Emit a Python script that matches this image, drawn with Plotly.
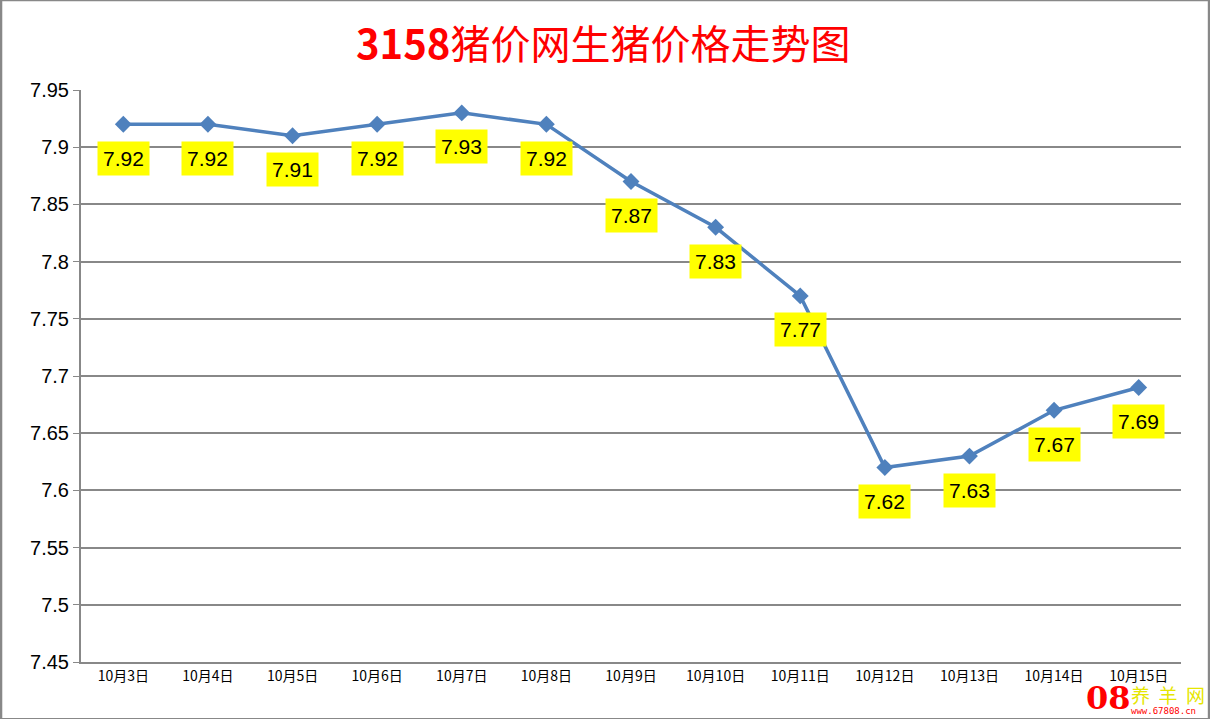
import plotly.graph_objects as go

categories = ["10月3日", "10月4日", "10月5日", "10月6日", "10月7日", "10月8日", "10月9日",
              "10月10日", "10月11日", "10月12日", "10月13日", "10月14日", "10月15日"]
prices = [7.92, 7.92, 7.91, 7.92, 7.93, 7.92, 7.87, 7.83, 7.77, 7.62, 7.63, 7.67, 7.69]
y_ticks = [7.45, 7.5, 7.55, 7.6, 7.65, 7.7, 7.75, 7.8, 7.85, 7.9, 7.95]
y_tick_text = ["7.45", "7.5", "7.55", "7.6", "7.65", "7.7", "7.75", "7.8", "7.85", "7.9", "7.95"]
title_num = "3158"
title_rest = "猪价网生猪价格走势图"

fig = go.Figure()
fig.add_trace(go.Scatter(
    x=categories, y=prices, mode="lines+markers",
    line=dict(color="#4F81BD", width=3.5),
    marker=dict(symbol="diamond", size=13, color="#4F81BD"),
    hoverinfo="skip", showlegend=False,
))

for c, p in zip(categories, prices):
    fig.add_annotation(x=c, y=p, text=f"{p:.2f}", showarrow=False, yshift=-34,
                       bgcolor="#FFFF00", borderpad=5,
                       font=dict(family="Liberation Sans, Arial", size=21, color="black"))

fig.add_annotation(xref="paper", yref="paper", x=0.4745, y=1, yshift=48, xanchor="center", yanchor="middle",
                   text="<b>" + title_num + "</b>" + title_rest, showarrow=False,
                   font=dict(family="Noto Sans CJK SC", size=40, color="#FF0000"))

# watermark
fig.add_annotation(xref="paper", yref="paper", x=1.0, y=0, xanchor="right", yanchor="top",
                   xshift=-48, yshift=-15,
                   text="<b>08</b>", showarrow=False,
                   font=dict(family="DejaVu Serif", size=32, color="#FF0000"))
fig.add_annotation(xref="paper", yref="paper", x=1.0, y=0, xanchor="left", yanchor="top",
                   xshift=-52, yshift=-17,
                   text="养&nbsp;&nbsp;羊&nbsp;&nbsp;网", showarrow=False,
                   font=dict(family="Noto Sans CJK SC", size=19, color="#E6E600"))
fig.add_annotation(xref="paper", yref="paper", x=1.0, y=0, xanchor="left", yanchor="top",
                   xshift=-52, yshift=-42,
                   text="www.67808.cn", showarrow=False,
                   font=dict(family="DejaVu Sans Mono", size=9, color="#FF0000"))

fig.add_shape(type="rect", xref="paper", yref="paper", x0=-0.0727, x1=1.0255, y0=-0.0999, y1=1.1573,
              line=dict(color="#888888", width=2.5), layer="above")

fig.update_layout(
    width=1210, height=719,
    margin=dict(l=81, r=29, t=90, b=57),
    paper_bgcolor="white", plot_bgcolor="white",
    xaxis=dict(showgrid=False, showline=True, linecolor="#888888", linewidth=2,
               ticks="", tickfont=dict(family="Noto Sans CJK SC", size=14, color="black"),
               range=[-0.5, 12.5], fixedrange=True),
    yaxis=dict(range=[7.45, 7.95], tickvals=y_ticks, ticktext=y_tick_text,
               showgrid=True, gridcolor="#888888", gridwidth=1.5,
               showline=True, linecolor="#888888", linewidth=2, ticks="outside",
               ticklen=6, tickcolor="#888888", zeroline=False,
               tickfont=dict(family="Liberation Sans, Arial", size=20, color="black")),
)

fig.write_html("out.html", config={"displayModeBar": False},
               post_script="document.body.style.margin='0';document.body.style.overflow='hidden';")
